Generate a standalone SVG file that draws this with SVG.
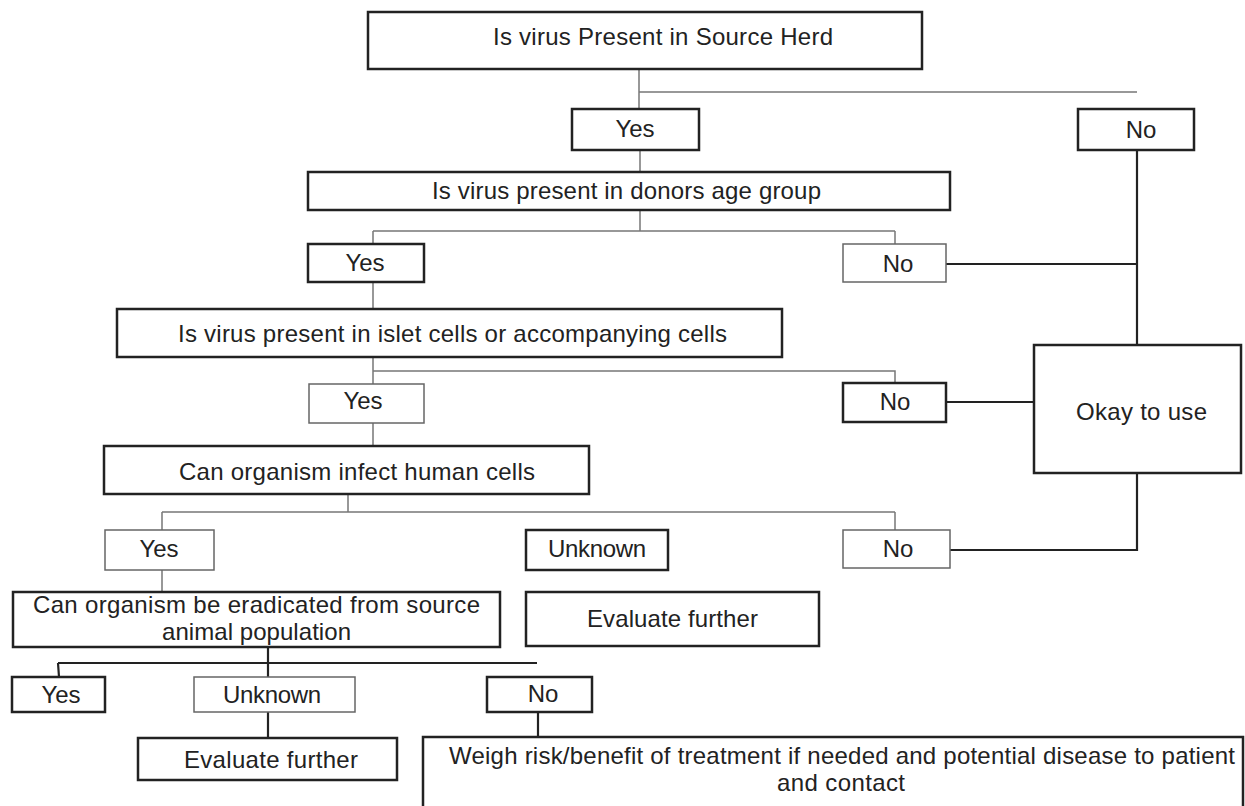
<svg xmlns="http://www.w3.org/2000/svg" width="1245" height="806" viewBox="0 0 1245 806">
<style>
.b{fill:#fff;stroke:#222;stroke-width:2.5}
.g{fill:#fff;stroke:#666;stroke-width:1.5}
.t{font-family:"Liberation Sans",Arial,sans-serif;font-size:24px;fill:#222}
.c{text-anchor:middle}
.lg{fill:none;stroke:#777;stroke-width:1.5}
.ld{fill:none;stroke:#222;stroke-width:2.2}
</style>
<rect width="1245" height="806" fill="#fff"/>
<g id="connectors">
<path class="lg" d="M639 69V109M639 92H1137"/>
<path class="lg" d="M640 150V172M640 210V231M373 231H895M373 231V244M895 231V244"/>
<path class="lg" d="M373 282V309M373 357V384M373 371H895V383M373 423V446"/>
<path class="lg" d="M348 494V512M162 512H895M162 512V530M895 512V530M162 570V592"/>
<path class="ld" d="M1137 150V345M946 264H1137M946 402H1034M1137 473V550H950"/>
<path class="ld" d="M268 647V677M58 663H537M58 663L59 677M268 712V738M538 712V737"/>
</g>
<g id="n-herd"><rect class="b" x="368" y="12" width="554" height="57"/><text class="t" x="493" y="45" textLength="340" lengthAdjust="spacing">Is virus Present in Source Herd</text></g>
<g id="n-yes1"><rect class="b" x="572" y="109" width="127" height="41"/><text class="t c" x="635" y="137">Yes</text></g>
<g id="n-no1"><rect class="b" x="1078" y="109" width="116" height="41"/><text class="t c" x="1141" y="138">No</text></g>
<g id="n-donor"><rect class="b" x="308" y="172" width="642" height="38"/><text class="t" x="432" y="199" textLength="389" lengthAdjust="spacing">Is virus present in donors age group</text></g>
<g id="n-yes2"><rect class="b" x="308" y="244" width="116" height="38"/><text class="t c" x="365" y="271">Yes</text></g>
<g id="n-no2"><rect class="g" x="843" y="244" width="103" height="38"/><text class="t c" x="898" y="272">No</text></g>
<g id="n-islet"><rect class="b" x="117" y="309" width="665" height="48"/><text class="t" x="178" y="342" textLength="549" lengthAdjust="spacing">Is virus present in islet cells or accompanying cells</text></g>
<g id="n-no3"><rect class="b" x="843" y="383" width="103" height="39"/><text class="t c" x="895" y="410">No</text></g>
<g id="n-okay"><rect class="b" x="1034" y="345" width="207" height="128"/><text class="t" x="1076" y="420" textLength="131" lengthAdjust="spacing">Okay to use</text></g>
<g id="n-yes3"><rect class="g" x="309" y="384" width="115" height="39"/><text class="t c" x="363" y="409">Yes</text></g>
<g id="n-infect"><rect class="b" x="104" y="446" width="485" height="48"/><text class="t" x="179" y="480" textLength="356" lengthAdjust="spacing">Can organism infect human cells</text></g>
<g id="n-yes4"><rect class="g" x="105" y="530" width="109" height="40"/><text class="t c" x="159" y="557">Yes</text></g>
<g id="n-unknown1"><rect class="b" x="526" y="530" width="142" height="40"/><text class="t" x="548" y="557" textLength="98" lengthAdjust="spacing">Unknown</text></g>
<g id="n-no4"><rect class="g" x="843" y="530" width="107" height="38"/><text class="t c" x="898" y="557">No</text></g>
<g id="n-eval1"><rect class="b" x="526" y="592" width="293" height="54"/><text class="t" x="587" y="627" textLength="171" lengthAdjust="spacing">Evaluate further</text></g>
<g id="n-eradicate"><rect class="b" x="13" y="592" width="487" height="55"/><text class="t" x="33" y="613" textLength="447" lengthAdjust="spacing">Can organism be eradicated from source</text><text class="t" x="162" y="640" textLength="189" lengthAdjust="spacing">animal population</text></g>
<g id="n-yes5"><rect class="b" x="12" y="677" width="93" height="35"/><text class="t c" x="61" y="703">Yes</text></g>
<g id="n-unknown2"><rect class="g" x="194" y="677" width="161" height="35"/><text class="t" x="223" y="703" textLength="98" lengthAdjust="spacing">Unknown</text></g>
<g id="n-no5"><rect class="b" x="487" y="677" width="105" height="35"/><text class="t c" x="543" y="702">No</text></g>
<g id="n-eval2"><rect class="b" x="138" y="738" width="259" height="42"/><text class="t" x="184" y="768" textLength="174" lengthAdjust="spacing">Evaluate further</text></g>
<g id="n-weigh"><rect class="b" x="423" y="737" width="820" height="80"/><text class="t" x="449" y="764" textLength="786" lengthAdjust="spacing">Weigh risk/benefit of treatment if needed and potential disease to patient</text><text class="t" x="777" y="791" textLength="128" lengthAdjust="spacing">and contact</text></g>
</svg>
